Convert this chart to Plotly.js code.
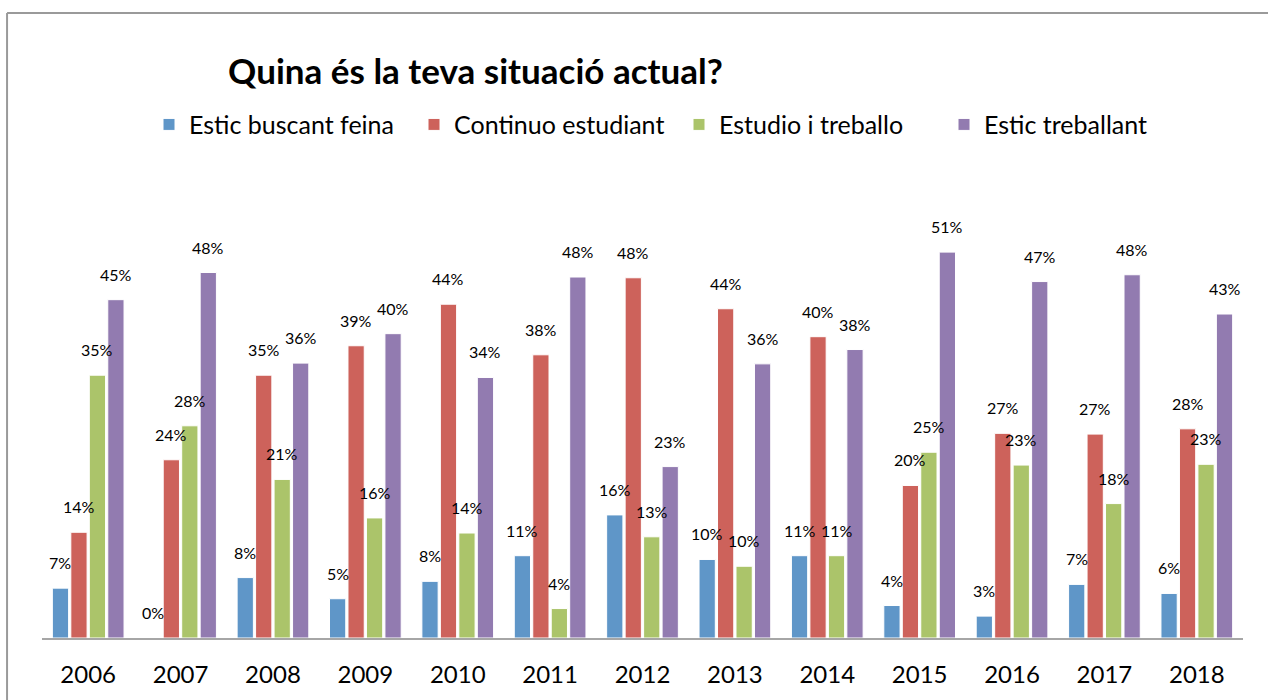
<!DOCTYPE html>
<html>
<head>
<meta charset="utf-8">
<script src="https://cdn.plot.ly/plotly-3.0.1.min.js"></script>
<style>html,body{margin:0;padding:0;background:#fff;}#chart{width:1268px;height:700px;}</style>
</head>
<body>
<div id="chart"></div>
<script>
const years = ["2006","2007","2008","2009","2010","2011","2012","2013","2014","2015","2016","2017","2018"];
const seriesNames = ["Estic buscant feina","Continuo estudiant","Estudio i treballo","Estic treballant"];
const buscant   = [6.6, 0, 8.0, 5.2, 7.5, 10.9, 16.3, 10.4, 10.9, 4.3, 2.9, 7.1, 5.9];
const estudiant = [14.0, 23.6, 34.8, 38.7, 44.2, 37.5, 47.7, 43.6, 39.9, 20.2, 27.1, 27.0, 27.7];
const estudiTreb= [34.8, 28.1, 21.0, 15.9, 13.9, 3.9, 13.4, 9.5, 10.9, 24.6, 22.9, 17.8, 23.0];
const treballant= [44.8, 48.4, 36.4, 40.3, 34.5, 47.8, 22.7, 36.3, 38.2, 51.1, 47.2, 48.1, 42.9];
const labBuscant   = ["7%","0%","8%","5%","8%","11%","16%","10%","11%","4%","3%","7%","6%"];
const labEstudiant = ["14%","24%","35%","39%","44%","38%","48%","44%","40%","20%","27%","27%","28%"];
const labEstTreb   = ["35%","28%","21%","16%","14%","4%","13%","10%","11%","25%","23%","18%","23%"];
const labTreballant= ["45%","48%","36%","40%","34%","48%","23%","36%","38%","51%","47%","48%","43%"];
const colors = ["#5f96c8","#cd625b","#abc46a","#927bb0"];

const FONT = "Lato, 'Liberation Sans', sans-serif";
const W = 1268, H = 700;
const margin = {l:42, r:25, t:200, b:62};
const bargap = 0.2, bargroupgap = 0.12;
const vals = [buscant, estudiant, estudiTreb, treballant];
const labs = [labBuscant, labEstudiant, labEstTreb, labTreballant];

const traces = vals.map((v,i)=>({
  type:'bar', name: seriesNames[i], x: years, y: v,
  marker:{color:colors[i], line:{color:'#ffffff', width:1}},
  hoverinfo:'none'
}));

// data labels as annotations anchored to each bar's value (category index), shifted to its slot in the group
const catPx = (W - margin.l - margin.r) / years.length;
const slotPx = catPx * (1 - bargap) / vals.length;
const annotations = [];
vals.forEach((v,i)=>{
  v.forEach((val,j)=>{
    annotations.push({
      x: j, y: val, xref:'x', yref:'y',
      text: labs[i][j], showarrow:false,
      xanchor:'center', yanchor:'bottom',
      xshift: (i - (vals.length-1)/2) * slotPx, yshift: 14,
      font:{size:16, family:FONT, color:'#000'}
    });
  });
});

const layout = {
  width:W, height:H,
  margin:margin,
  paper_bgcolor:'#fff', plot_bgcolor:'#fff',
  barmode:'group', bargap:bargap, bargroupgap:bargroupgap,
  font:{family:FONT, color:'#000'},
  title:{text:'<b>Quina és la teva situació actual?</b>', font:{size:35, family:FONT, color:'#000'},
         x:0.375, xref:'container', xanchor:'center', y:0.897, yref:'container', yanchor:'middle'},
  showlegend:true,
  legend:{orientation:'h', x:0.5304, xanchor:'center', y:1.172, yanchor:'middle',
          font:{size:25, family:FONT, color:'#000'}, itemwidth:30, traceorder:'normal',
          entrywidth:220, entrywidthmode:'pixels'},
  xaxis:{type:'category', range:[-0.5, years.length-0.5], showline:true, linecolor:'#a6a6a6', linewidth:2, ticks:'',
         tickfont:{size:24, family:FONT, color:'#000'}, ticklabelstandoff:14,
         showgrid:false, zeroline:false, fixedrange:true},
  yaxis:{range:[0,58], visible:false, showgrid:false, zeroline:false, fixedrange:true},
  annotations: annotations,
  shapes:[
    {type:'line', xref:'paper', yref:'paper', x0:-0.0291, x1:1.03, y0:1.427, y1:1.427, line:{color:'#9a9a9a', width:2}},
    {type:'line', xref:'paper', yref:'paper', x0:-0.0291, x1:-0.0291, y0:1.427, y1:-0.2, line:{color:'#9a9a9a', width:2}}
  ]
};
Plotly.newPlot('chart', traces, layout, {displayModeBar:false, staticPlot:true});
</script>
</body>
</html>
